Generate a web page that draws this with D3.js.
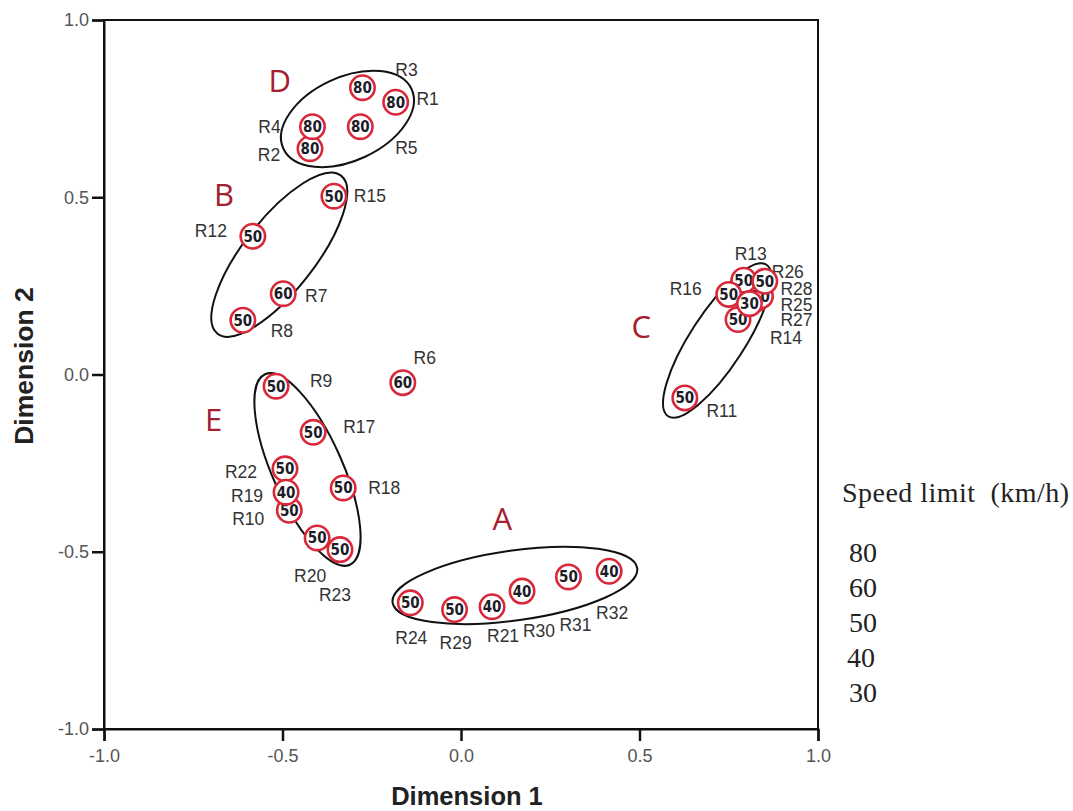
<!DOCTYPE html>
<html>
<head>
<meta charset="utf-8">
<script src="https://cdn.jsdelivr.net/npm/d3@7"></script>
<style>
  html, body { margin: 0; padding: 0; background: #fff; }
  svg { display: block; }
</style>
</head>
<body>
<svg id="chart" width="1073" height="811"></svg>
<script>
// Road sections (drawing order matters where signs overlap)
const roadIds = ["R1","R2","R3","R4","R5","R6","R7","R8","R12","R15",
  "R9","R17","R18","R10","R22","R19","R20","R23",
  "R24","R29","R21","R30","R31","R32",
  "R11","R27","R28","R13","R26","R16","R14","R25"];
const dim1 = [-0.183,-0.423,-0.276,-0.416,-0.282,-0.163,-0.498,-0.611,-0.583,-0.356,
  -0.518,-0.414,-0.330,-0.481,-0.493,-0.490,-0.403,-0.339,
  -0.142,-0.018,0.087,0.171,0.301,0.415,
  0.627,0.825,0.839,0.792,0.851,0.750,0.776,0.808];
const dim2 = [0.768,0.637,0.809,0.699,0.699,-0.023,0.228,0.153,0.390,0.503,
  -0.033,-0.163,-0.320,-0.383,-0.266,-0.332,-0.461,-0.494,
  -0.644,-0.663,-0.655,-0.611,-0.571,-0.555,
  -0.066,0.212,0.221,0.266,0.263,0.226,0.155,0.200];
const speedLimit = [80,80,80,80,80,60,60,50,50,50,
  50,50,50,50,50,40,50,50,
  50,50,40,40,50,40,
  50,50,50,50,50,50,50,30];

// Label placement around each sign (pixels from the sign centre)
const labelOffsets = {
  R1:[32,-3], R2:[-41,6], R3:[44,-18], R4:[-43,0], R5:[46,21], R6:[22,-25],
  R7:[33,2], R8:[39,11], R12:[-42,-5], R15:[36,0],
  R9:[45,-5], R17:[46,-5], R18:[41,0], R10:[-41,9], R22:[-44,3], R19:[-39,4],
  R20:[-7,38], R23:[-5,45],
  R24:[1,35], R29:[1,33], R21:[11,29], R30:[17,40], R31:[7,48], R32:[3,42],
  R11:[37,13], R27:[41,21], R28:[36,-7], R13:[7,-26], R26:[23,-9], R16:[-43,-5],
  R14:[48,18], R25:[47,1]
};

// Cluster outlines: centre, semi-axes (dimension units) and tilt (degrees)
const clusterNames = ["D","B","E","A","C"];
const clusterCx = [-0.318,-0.509,-0.430,0.151,0.718];
const clusterCy = [0.721,0.338,-0.268,-0.595,0.096];
const clusterRx = [0.198,0.281,0.292,0.346,0.253];
const clusterRy = [0.117,0.100,0.098,0.098,0.076];
const clusterTilt = [-25,-52,66,-8,-57];
// Cluster letter anchors (dimension units)
const letterX = [-0.508,-0.664,-0.693,0.116,0.505];
const letterY = [0.832,0.510,-0.125,-0.406,0.137];

const tickValues = [-1.0,-0.5,0.0,0.5,1.0];
const legendTitle = "Speed limit  (km/h)";
const legendValues = [80,60,50,40,30];

const svg = d3.select("#chart");
const x = d3.scaleLinear().domain([-1,1]).range([104,818]);
const y = d3.scaleLinear().domain([-1,1]).range([729,20]);
const unitPx = x(1) - x(0);

// Frame
svg.append("rect")
  .attr("x", x(-1)).attr("y", y(1))
  .attr("width", x(1)-x(-1)).attr("height", y(-1)-y(1))
  .attr("fill","none").attr("stroke","#111").attr("stroke-width",2);

// Axes
const fmt = v => d3.format(".1f")(v).replace("\u2212","-");
const xAxis = svg.append("g").attr("transform",`translate(0,${y(-1)})`)
  .call(d3.axisBottom(x).tickValues(tickValues).tickFormat(fmt).tickSizeOuter(0).tickSize(12).tickPadding(8));
const yAxis = svg.append("g").attr("transform",`translate(${x(-1)},0)`)
  .call(d3.axisLeft(y).tickValues(tickValues).tickFormat(fmt).tickSizeOuter(0).tickSize(12).tickPadding(3));
[xAxis, yAxis].forEach(g => {
  g.attr("font-size", null).attr("font-family", null);
  g.select(".domain").attr("stroke","#111").attr("stroke-width",2);
  g.selectAll(".tick line").attr("stroke","#111").attr("stroke-width",2.5);
  g.selectAll(".tick text").attr("fill","#555")
    .style("font-family","Arial, 'Liberation Sans', sans-serif").style("font-size","18px");
});

// Axis titles
svg.append("text").attr("x",467).attr("y",805).attr("text-anchor","middle")
  .attr("font-family","Arial, 'Liberation Sans', sans-serif").attr("font-weight","bold")
  .attr("font-size",25.5).attr("fill","#222").text("Dimension 1");
svg.append("text").attr("transform","translate(33,366) rotate(-90)").attr("text-anchor","middle")
  .attr("font-family","Arial, 'Liberation Sans', sans-serif").attr("font-weight","bold")
  .attr("font-size",26.5).attr("fill","#222").text("Dimension 2");

// Cluster ellipses
const clusters = clusterNames.map((n,i)=>({n, cx:clusterCx[i], cy:clusterCy[i], rx:clusterRx[i], ry:clusterRy[i], t:clusterTilt[i], lx:letterX[i], ly:letterY[i]}));
svg.append("g").selectAll("ellipse").data(clusters).join("ellipse")
  .attr("transform", d => `translate(${x(d.cx)},${y(d.cy)}) rotate(${d.t})`)
  .attr("rx", d => d.rx*unitPx).attr("ry", d => d.ry*unitPx)
  .attr("fill","none").attr("stroke","#111").attr("stroke-width",2);

svg.append("g").selectAll("text").data(clusters).join("text")
  .attr("x", d => x(d.lx)).attr("y", d => y(d.ly))
  .attr("text-anchor","middle").attr("dominant-baseline","central")
  .attr("font-family","'Open Sans', 'Noto Sans', sans-serif").attr("font-size",31)
  .attr("fill","#a3202e").text(d => d.n);

// Road sections
const roads = roadIds.map((id,i)=>({id, d1:dim1[i], d2:dim2[i], v:speedLimit[i]}));

// Section labels (beneath the signs)
svg.append("g").selectAll("text").data(roads).join("text")
  .attr("x", d => x(d.d1) + labelOffsets[d.id][0])
  .attr("y", d => y(d.d2) + labelOffsets[d.id][1])
  .attr("text-anchor","middle").attr("dominant-baseline","central")
  .attr("font-family","Arial, 'Liberation Sans', sans-serif").attr("font-size",17.5)
  .attr("fill","#333").text(d => d.id);

// Speed-limit signs
const signs = svg.append("g").selectAll("g").data(roads).join("g")
  .attr("transform", d => `translate(${x(d.d1)},${y(d.d2)})`);
signs.append("circle").attr("r",12.2).attr("fill","#fff")
  .attr("stroke","#d8283a").attr("stroke-width",2.6);
signs.append("text").attr("text-anchor","middle").attr("dominant-baseline","central")
  .attr("dy",0.5)
  .attr("font-family","'DejaVu Sans Condensed', 'DejaVu Sans', Arial, sans-serif").attr("font-weight","bold")
  .attr("font-size",15).attr("fill","#1c1c28").text(d => d.v);

// Legend
const legend = svg.append("g").attr("font-family","'Liberation Serif', 'Times New Roman', serif").attr("fill","#222");
legend.append("text").attr("x",842).attr("y",502).attr("font-size",28)
  .attr("textLength",227).attr("lengthAdjust","spacing")
  .style("white-space","pre").text(legendTitle);
legend.selectAll("text.v").data(legendValues).join("text").attr("class","v")
  .attr("x",(d,i)=> i===3 ? 847 : 849).attr("y",(d,i)=> 562 + i*35).attr("font-size",28).text(d => d);
</script>
</body>
</html>
